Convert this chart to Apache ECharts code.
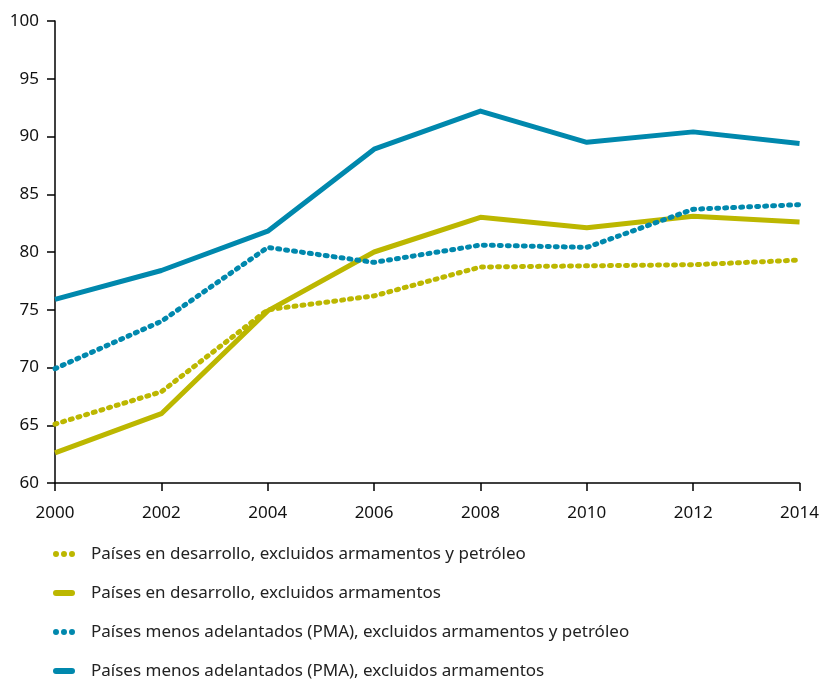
<!DOCTYPE html>
<html><head><meta charset="utf-8">
<script src="https://cdn.jsdelivr.net/npm/echarts@6/dist/echarts.min.js"></script>
<style>html,body{margin:0;padding:0;background:#fff}#c{width:822px;height:682px}</style>
</head><body><div id="c"></div>
<script>
const years = ['2000','2002','2004','2006','2008','2010','2012','2014'];
const desarrolloSinArmPetroleo = [65.1, 67.9, 75.0, 76.2, 78.7, 78.8, 78.9, 79.3];
const desarrolloSinArm = [62.6, 66.0, 74.9, 80.0, 83.0, 82.1, 83.1, 82.6];
const pmaSinArmPetroleo = [69.9, 74.0, 80.4, 79.1, 80.6, 80.4, 83.7, 84.1];
const pmaSinArm = [75.9, 78.4, 81.8, 88.9, 92.2, 89.5, 90.4, 89.4];
const names = [
  'Países en desarrollo, excluidos armamentos y petróleo',
  'Países en desarrollo, excluidos armamentos',
  'Países menos adelantados (PMA), excluidos armamentos y petróleo',
  'Países menos adelantados (PMA), excluidos armamentos'
];
const OLIVE = '#bcb700', BLUE = '#0088ad';
const font = '"Noto Sans", "Open Sans", sans-serif';
const DOTS_ICON = 'path://M3,0A3,3 0 1,1 3,6A3,3 0 1,1 3,0Z M11,0A3,3 0 1,1 11,6A3,3 0 1,1 11,0Z M19,0A3,3 0 1,1 19,6A3,3 0 1,1 19,0Z';
const BAR_ICON = 'path://M3,0H19A3,3 0 0,1 19,6H3A3,3 0 0,1 3,0Z';
function ser(name, data, color, dotted) {
  return {
    name, type: 'line', data, showSymbol: false, symbol: 'none', smooth: false,
    lineStyle: dotted ? {color, width: 5, type: [2, 6], cap: 'round', join: 'round'}
                      : {color, width: 5, join: 'round'},
    itemStyle: {color}
  };
}
const chart = echarts.init(document.getElementById('c'), null, {renderer: 'canvas'});
chart.setOption({
  animation: false,
  grid: {left: 55, right: 21, top: 21, bottom: 199, containLabel: false},
  xAxis: {
    type: 'category', data: years, boundaryGap: false,
    axisLine: {lineStyle: {color: '#000', width: 1.5}},
    axisTick: {show: true, length: 8, lineStyle: {color: '#000', width: 1.5}},
    axisLabel: {color: '#111', fontSize: 17, fontFamily: font, margin: 22, showMaxLabel: true, showMinLabel: true},
    splitLine: {show: false}
  },
  yAxis: {
    type: 'value', min: 60, max: 100, interval: 5,
    axisLine: {show: true, lineStyle: {color: '#000', width: 1.5}},
    axisTick: {show: true, length: 8, inside: false, lineStyle: {color: '#000', width: 1.5}},
    axisLabel: {color: '#111', fontSize: 17, fontFamily: font, margin: 16},
    splitLine: {show: false}
  },
  legend: {
    orient: 'vertical', left: 53, top: 545, itemGap: 21, padding: 0,
    itemWidth: 22, itemHeight: 6,
    textStyle: {color: '#222', fontSize: 17, lineHeight: 18, fontFamily: font, padding: [0, 0, 0, 11]},
    data: [
      {name: names[0], icon: DOTS_ICON},
      {name: names[1], icon: BAR_ICON},
      {name: names[2], icon: DOTS_ICON},
      {name: names[3], icon: BAR_ICON}
    ]
  },
  series: [
    ser(names[0], desarrolloSinArmPetroleo, OLIVE, true),
    ser(names[1], desarrolloSinArm, OLIVE, false),
    ser(names[2], pmaSinArmPetroleo, BLUE, true),
    ser(names[3], pmaSinArm, BLUE, false)
  ]
});
</script></body></html>
